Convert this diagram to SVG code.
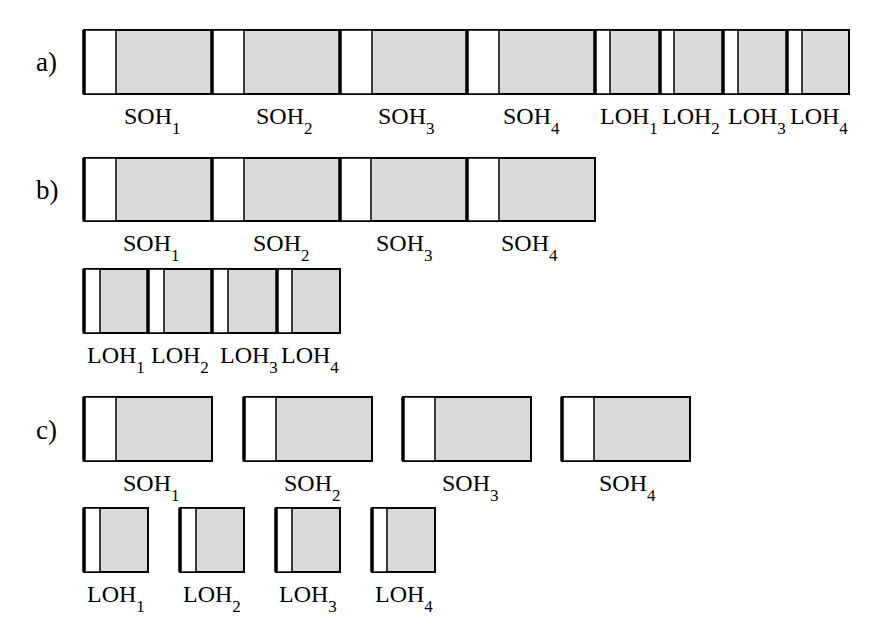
<svg xmlns="http://www.w3.org/2000/svg" width="873" height="632" viewBox="0 0 873 632">
<style>
.g{fill:#d9d9d9;stroke:#000;stroke-width:2}
.w{fill:#fff;stroke:#000;stroke-width:1.5}
.e{stroke:#000;stroke-width:3.5;fill:none}
text{font-family:"Liberation Serif","Times New Roman",serif;font-size:24px;fill:#000}
.sub{font-size:17px}
.lab{font-size:27px}
</style>
<rect width="873" height="632" fill="#fff"/>
<g id="labels-rows">
<text class="lab" x="36" y="71">a)</text>
<text class="lab" x="36" y="199">b)</text>
<text class="lab" x="36" y="439">c)</text>
</g>
<!-- row a -->
<g id="a-SOH1"><rect class="g" x="84" y="30" width="128" height="64"/><rect class="w" x="84" y="30" width="32" height="64"/><line class="e" x1="84" y1="30" x2="84" y2="94"/><text x="124" y="124">SOH<tspan class="sub" y="134">1</tspan></text></g>
<g id="a-SOH2"><rect class="g" x="212" y="30" width="128" height="64"/><rect class="w" x="212" y="30" width="32" height="64"/><line class="e" x1="212" y1="30" x2="212" y2="94"/><text x="256" y="124">SOH<tspan class="sub" y="134">2</tspan></text></g>
<g id="a-SOH3"><rect class="g" x="340" y="30" width="128" height="64"/><rect class="w" x="340" y="30" width="32" height="64"/><line class="e" x1="340" y1="30" x2="340" y2="94"/><text x="378" y="124">SOH<tspan class="sub" y="134">3</tspan></text></g>
<g id="a-SOH4"><rect class="g" x="467" y="30" width="128" height="64"/><rect class="w" x="467" y="30" width="32" height="64"/><line class="e" x1="467" y1="30" x2="467" y2="94"/><text x="503" y="124">SOH<tspan class="sub" y="134">4</tspan></text></g>
<g id="a-LOH1"><rect class="g" x="595" y="30" width="65" height="64"/><rect class="w" x="595" y="30" width="15" height="64"/><line class="e" x1="595" y1="30" x2="595" y2="94"/><text x="600" y="124">LOH<tspan class="sub" y="134">1</tspan></text></g>
<g id="a-LOH2"><rect class="g" x="660" y="30" width="63" height="64"/><rect class="w" x="660" y="30" width="14" height="64"/><line class="e" x1="660" y1="30" x2="660" y2="94"/><text x="662" y="124">LOH<tspan class="sub" y="134">2</tspan></text></g>
<g id="a-LOH3"><rect class="g" x="723" y="30" width="64" height="64"/><rect class="w" x="723" y="30" width="15" height="64"/><line class="e" x1="723" y1="30" x2="723" y2="94"/><text x="728" y="124">LOH<tspan class="sub" y="134">3</tspan></text></g>
<g id="a-LOH4"><rect class="g" x="787" y="30" width="62" height="64"/><rect class="w" x="787" y="30" width="15" height="64"/><line class="e" x1="787" y1="30" x2="787" y2="94"/><text x="790" y="124">LOH<tspan class="sub" y="134">4</tspan></text></g>
<!-- row b -->
<g id="b-SOH1"><rect class="g" x="84" y="158" width="128" height="63"/><rect class="w" x="84" y="158" width="32" height="63"/><line class="e" x1="84" y1="158" x2="84" y2="221"/><text x="123" y="251">SOH<tspan class="sub" y="261">1</tspan></text></g>
<g id="b-SOH2"><rect class="g" x="212" y="158" width="128" height="63"/><rect class="w" x="212" y="158" width="32" height="63"/><line class="e" x1="212" y1="158" x2="212" y2="221"/><text x="253" y="251">SOH<tspan class="sub" y="261">2</tspan></text></g>
<g id="b-SOH3"><rect class="g" x="340" y="158" width="127" height="63"/><rect class="w" x="340" y="158" width="31" height="63"/><line class="e" x1="340" y1="158" x2="340" y2="221"/><text x="376" y="251">SOH<tspan class="sub" y="261">3</tspan></text></g>
<g id="b-SOH4"><rect class="g" x="467" y="158" width="128" height="63"/><rect class="w" x="467" y="158" width="32" height="63"/><line class="e" x1="467" y1="158" x2="467" y2="221"/><text x="501" y="251">SOH<tspan class="sub" y="261">4</tspan></text></g>
<g id="b-LOH1"><rect class="g" x="84" y="269" width="64" height="64"/><rect class="w" x="84" y="269" width="16" height="64"/><line class="e" x1="84" y1="269" x2="84" y2="333"/><text x="87" y="363">LOH<tspan class="sub" y="373">1</tspan></text></g>
<g id="b-LOH2"><rect class="g" x="148" y="269" width="64" height="64"/><rect class="w" x="148" y="269" width="16" height="64"/><line class="e" x1="148" y1="269" x2="148" y2="333"/><text x="151" y="363">LOH<tspan class="sub" y="373">2</tspan></text></g>
<g id="b-LOH3"><rect class="g" x="212" y="269" width="65" height="64"/><rect class="w" x="212" y="269" width="16" height="64"/><line class="e" x1="212" y1="269" x2="212" y2="333"/><text x="220" y="363">LOH<tspan class="sub" y="373">3</tspan></text></g>
<g id="b-LOH4"><rect class="g" x="277" y="269" width="63" height="64"/><rect class="w" x="277" y="269" width="15" height="64"/><line class="e" x1="277" y1="269" x2="277" y2="333"/><text x="281" y="363">LOH<tspan class="sub" y="373">4</tspan></text></g>
<!-- row c -->
<g id="c-SOH1"><rect class="g" x="84" y="397" width="128" height="64"/><rect class="w" x="84" y="397" width="32" height="64"/><line class="e" x1="84" y1="397" x2="84" y2="461"/><text x="123" y="491">SOH<tspan class="sub" y="501">1</tspan></text></g>
<g id="c-SOH2"><rect class="g" x="244" y="397" width="128" height="64"/><rect class="w" x="244" y="397" width="32" height="64"/><line class="e" x1="244" y1="397" x2="244" y2="461"/><text x="284" y="491">SOH<tspan class="sub" y="501">2</tspan></text></g>
<g id="c-SOH3"><rect class="g" x="403" y="397" width="128" height="64"/><rect class="w" x="403" y="397" width="32" height="64"/><line class="e" x1="403" y1="397" x2="403" y2="461"/><text x="442" y="491">SOH<tspan class="sub" y="501">3</tspan></text></g>
<g id="c-SOH4"><rect class="g" x="562" y="397" width="128" height="64"/><rect class="w" x="562" y="397" width="32" height="64"/><line class="e" x1="562" y1="397" x2="562" y2="461"/><text x="599" y="491">SOH<tspan class="sub" y="501">4</tspan></text></g>
<g id="c-LOH1"><rect class="g" x="84" y="508" width="64" height="64"/><rect class="w" x="84" y="508" width="16" height="64"/><line class="e" x1="84" y1="508" x2="84" y2="572"/><text x="87" y="602">LOH<tspan class="sub" y="612">1</tspan></text></g>
<g id="c-LOH2"><rect class="g" x="180" y="508" width="64" height="64"/><rect class="w" x="180" y="508" width="16" height="64"/><line class="e" x1="180" y1="508" x2="180" y2="572"/><text x="183" y="602">LOH<tspan class="sub" y="612">2</tspan></text></g>
<g id="c-LOH3"><rect class="g" x="276" y="508" width="64" height="64"/><rect class="w" x="276" y="508" width="16" height="64"/><line class="e" x1="276" y1="508" x2="276" y2="572"/><text x="279" y="602">LOH<tspan class="sub" y="612">3</tspan></text></g>
<g id="c-LOH4"><rect class="g" x="372" y="508" width="63" height="64"/><rect class="w" x="372" y="508" width="15" height="64"/><line class="e" x1="372" y1="508" x2="372" y2="572"/><text x="375" y="602">LOH<tspan class="sub" y="612">4</tspan></text></g>
</svg>
